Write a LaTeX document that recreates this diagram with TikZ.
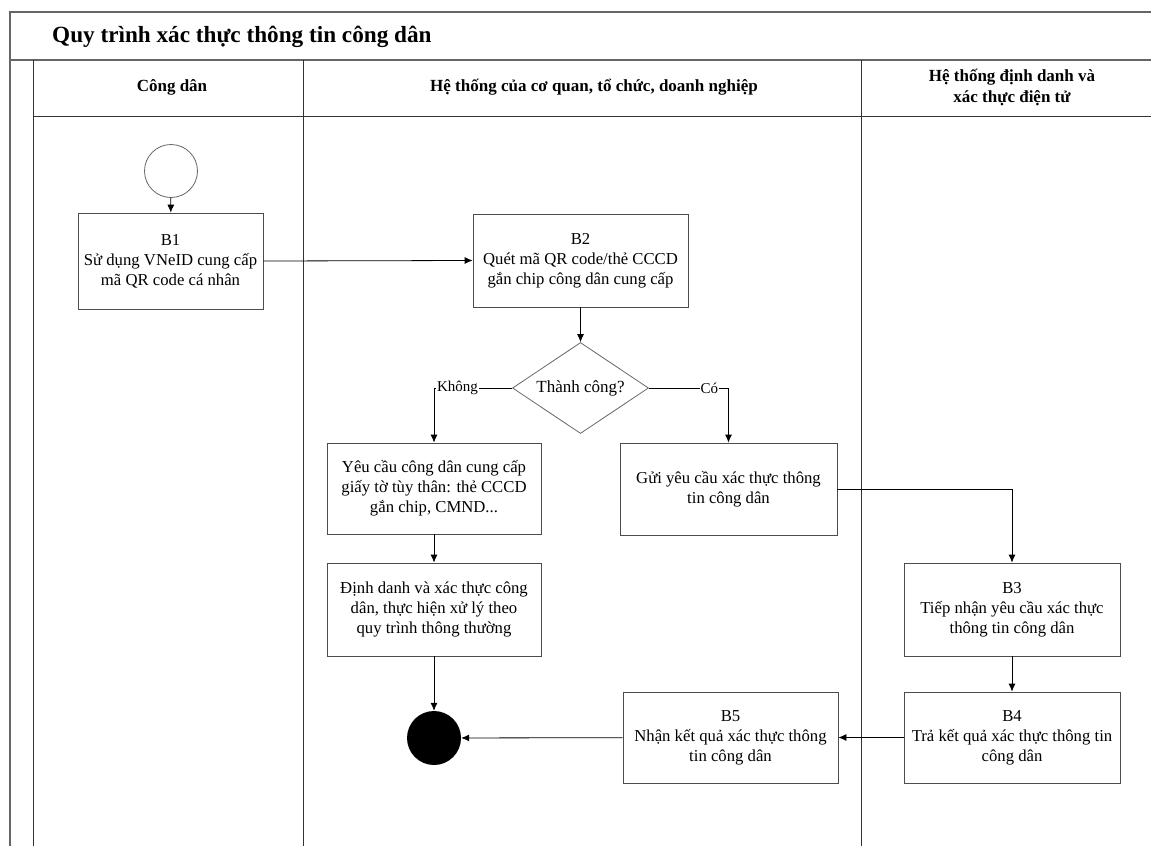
\documentclass[tikz,border=0pt]{standalone}
\usepackage{fontspec}
\setmainfont{Liberation Serif}
\usetikzlibrary{shapes.geometric,arrows.meta}
\begin{document}
\begin{tikzpicture}[x=1pt,y=-1pt,
  lane/.style={draw=black!80, line width=0.9pt},
  frame/.style={draw=black!60, line width=1.2pt},
  box/.style={draw=black!70, line width=0.8pt, align=center, inner sep=0pt,
    font=\fontsize{16.7}{20}\selectfont},
  hdr/.style={align=center, font=\bfseries\fontsize{17}{21}\selectfont},
  arr/.style={draw=black, line width=0.8pt, -{Latex[length=8pt,width=7pt]}},
  lbl/.style={fill=white, inner sep=1pt, font=\fontsize{15}{18}\selectfont}
]
\useasboundingbox (0,0) rectangle (1151,846);
\fill[white] (0,0) rectangle (1151,846);
% frame and lanes
\coordinate (tl) at (10,12);
\draw[frame] (10,846) -- (tl) -- (1151,12);
\draw[frame] (10,60) -- (1151,60);
\draw[lane] (33,60) -- (33,846);
\draw[lane] (33,116) -- (1151,116);
\draw[lane] (303,60) -- (303,846);
\draw[lane] (861,60) -- (861,846);
% title and headers
\node[anchor=west, font=\bfseries\fontsize{23.2}{27}\selectfont, inner sep=0pt] (title) at (52,37) {Quy trình xác thực thông tin công dân};
\node[hdr] (h1) at (172,87) {Công dân};
\node[hdr] (h2) at (594,87) {Hệ thống của cơ quan, tổ chức, doanh nghiệp};
\node[hdr] (h3) at (1012,87) {Hệ thống định danh và\\xác thực điện tử};
% nodes
\node[circle, draw=black!60, line width=0.8pt, minimum size=53pt, inner sep=0pt] (start) at (171,171) {};
\node[box, minimum width=185pt, minimum height=96pt] (b1) at (170.5,261) {B1\\Sử dụng VNeID cung cấp\\mã QR code cá nhân};
\node[box, minimum width=215pt, minimum height=93pt] (b2) at (580.5,260.5) {B2\\Quét mã QR code/thẻ CCCD\\gắn chip công dân cung cấp};
\node[diamond, draw=black!60, line width=0.8pt, aspect=1.5, inner sep=0pt, minimum width=136pt, minimum height=91pt, font=\fontsize{17}{20}\selectfont] (dia) at (580.5,388) {Thành công?};
\node[box, minimum width=214pt, minimum height=91pt] (yc) at (434,488.5) {Yêu cầu công dân cung cấp\\giấy tờ tùy thân: thẻ CCCD\\gắn chip, CMND...};
\node[box, minimum width=217pt, minimum height=92pt] (gui) at (728.5,489) {Gửi yêu cầu xác thực thông\\tin công dân};
\node[box, minimum width=214pt, minimum height=93pt] (dd) at (434,609.5) {Định danh và xác thực công\\dân, thực hiện xử lý theo\\quy trình thông thường};
\node[circle, fill=black, minimum size=54pt, inner sep=0pt] (end) at (434,738) {};
\node[box, minimum width=216pt, minimum height=93pt] (b3) at (1012,609.5) {B3\\Tiếp nhận yêu cầu xác thực\\thông tin công dân};
\node[box, minimum width=216pt, minimum height=91pt] (b4) at (1012,737.5) {B4\\Trả kết quả xác thực thông tin\\công dân};
\node[box, minimum width=215pt, minimum height=91pt] (b5) at (730.5,737.5) {B5\\Nhận kết quả xác thực thông\\tin công dân};
% connectors
\draw[arr] (start) -- (b1);
\draw[arr] (b1.east) -- (b2.west);
\draw[arr] (b2) -- (dia);
\draw[arr] (dia.west) -- node[lbl, pos=0.7] {Không} (dia.west -| yc.north) -- (yc.north);
\draw[arr] (dia.east) -- node[lbl, pos=0.76] {Có} (dia.east -| gui.north) -- (gui.north);
\draw[arr] (gui.east) -- (gui.east -| b3.north) -- (b3.north);
\draw[arr] (b3) -- (b4);
\draw[arr] (b4) -- (b5);
\draw[arr] (b5) -- (end);
\draw[arr] (yc) -- (dd);
\draw[arr] (dd) -- (end);
\end{tikzpicture}
\end{document}
